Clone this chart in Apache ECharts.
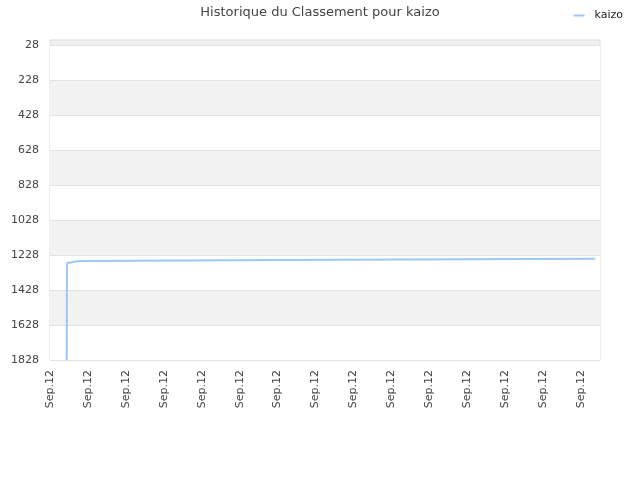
<!DOCTYPE html>
<html>
<head>
<meta charset="utf-8">
<script src="https://cdn.jsdelivr.net/npm/echarts@6/dist/echarts.min.js"></script>
<style>html,body{margin:0;padding:0;background:#fff}#c{width:640px;height:480px}</style>
</head>
<body>
<div id="c"></div>
<script>
// time positions (in label-interval units) and rank values (rank held until next time)
var times = [0.44, 0.448, 0.452, 0.456, 0.527, 0.659, 0.844, 7.593, 14.37];
var ranks = [1828, 1275, 1290, 1273, 1266, 1262, 1255, 1249, 1249];
var xTickLabels = ['Sep.12','Sep.12','Sep.12','Sep.12','Sep.12','Sep.12','Sep.12','Sep.12','Sep.12','Sep.12','Sep.12','Sep.12','Sep.12','Sep.12','Sep.12'];
var yTicks = [28, 228, 428, 628, 828, 1028, 1228, 1428, 1628, 1828];

// build step path: hold previous rank until the next time, then jump
var pts = [];
for (var i = 0; i < times.length; i++) {
  if (i > 0) pts.push([times[i], ranks[i - 1]]);
  pts.push([times[i], ranks[i]]);
}
var chart = echarts.init(document.getElementById('c'));
chart.setOption({
  animation: false,
  backgroundColor: '#fff',
  title: {
    text: 'Historique du Classement pour kaizo',
    left: 'center', top: 1,
    textStyle: { fontFamily: 'DejaVu Sans', fontSize: 13, fontWeight: 'normal', color: '#444' }
  },
  legend: {
    right: 12, top: 5,
    itemWidth: 11, itemHeight: 2, itemGap: 6,
    icon: 'rect',
    textStyle: { fontFamily: 'DejaVu Sans', fontSize: 11, color: '#222', padding: [0, 0, 0, 5] },
    data: ['kaizo']
  },
  grid: {
    left: 50, right: 40, top: 40, bottom: 120,
    show: true, borderColor: '#dddddd', borderWidth: 1, backgroundColor: '#f0f0f0'
  },
  xAxis: {
    type: 'value', min: 0, max: 14.5, interval: 1,
    axisLine: { show: false },
    axisTick: { show: false },
    splitLine: { show: false },
    axisLabel: {
      rotate: 90, fontFamily: 'DejaVu Sans', fontSize: 11, color: '#444', margin: 10,
      showMaxLabel: false,
      formatter: function (v) { var i = Math.round(v); return xTickLabels[i] || ''; }
    }
  },
  yAxis: {
    type: 'value', inverse: true, min: 0, max: 1828,
    axisLine: { show: false },
    axisTick: { show: false, customValues: yTicks },
    axisLabel: { customValues: yTicks, fontFamily: 'DejaVu Sans', fontSize: 11, color: '#444', margin: 11,
      formatter: function (v) { return String(v); } },
    splitLine: { show: true, lineStyle: { color: '#e2e2e2', width: 1 } },
    splitArea: { show: true, areaStyle: { color: ['#ffffff', '#f2f2f2'] } }
  },
  series: [{
    name: 'kaizo',
    type: 'line',
    data: pts,
    showSymbol: false,
    symbol: 'none',
    lineStyle: { color: '#9cc8f4', width: 2 },
    itemStyle: { color: '#9cc8f4' }
  }]
});
</script>
</body>
</html>
